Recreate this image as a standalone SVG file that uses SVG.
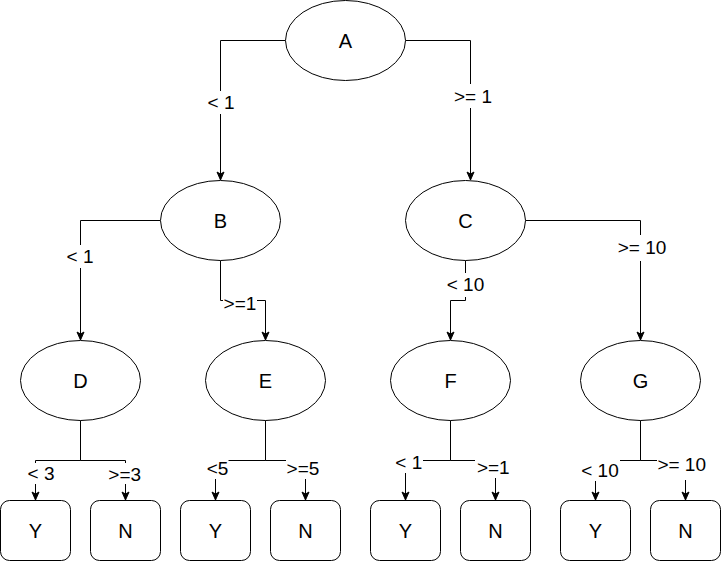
<svg xmlns="http://www.w3.org/2000/svg" width="721" height="561" viewBox="0 0 721 561">
<style>
.node{fill:#fff;stroke:#000;stroke-width:1}
.edge{fill:none;stroke:#000;stroke-width:1;marker-end:url(#arr)}
.nt{font-family:"Liberation Sans",Arial,sans-serif;font-size:20px;text-anchor:middle;fill:#000}
.lt{font-family:"Liberation Sans",Arial,sans-serif;font-size:19px;text-anchor:middle;fill:#000}
.bg{fill:#fff;stroke:none}
</style>
<defs>
<marker id="arr" markerUnits="userSpaceOnUse" viewBox="-1 -5 10 10" refX="8" refY="0" markerWidth="10" markerHeight="10" orient="auto">
<path d="M0,-3.5 L8,0 L0,3.5 L2,0 Z" fill="#000" stroke="#000" stroke-width="1" stroke-linejoin="miter"/>
</marker>
</defs>
<rect width="721" height="561" fill="#fff"/>
<g id="connectors">
<path class="edge" d="M285.5,40.5 H220.5 V180"/>
<path class="edge" d="M405.5,40.5 H470.5 V180"/>
<path class="edge" d="M160.5,220.5 H80.5 V340"/>
<path class="edge" d="M220.5,260.5 V300.5 H265.5 V340"/>
<path class="edge" d="M465.5,260.5 V300.5 H450.5 V340"/>
<path class="edge" d="M525.5,220.5 H640.5 V340"/>
<path class="edge" d="M80.5,420.5 V460.5 H35.5 V500"/>
<path class="edge" d="M80.5,420.5 V460.5 H125.5 V500"/>
<path class="edge" d="M265.5,420.5 V460.5 H215.5 V500"/>
<path class="edge" d="M265.5,420.5 V460.5 H305.5 V500"/>
<path class="edge" d="M450.5,420.5 V460.5 H405.5 V500"/>
<path class="edge" d="M450.5,420.5 V460.5 H495.5 V500"/>
<path class="edge" d="M640.5,420.5 V460.5 H595.5 V500"/>
<path class="edge" d="M640.5,420.5 V460.5 H685.5 V500"/>
<g id="edge-labels">
<rect class="bg" x="206" y="91" width="30" height="23"/><text class="lt" x="221" y="108.5">&lt; 1</text>
<rect class="bg" x="452" y="84" width="40" height="24"/><text class="lt" x="473" y="102.8">&gt;= 1</text>
<rect class="bg" x="64" y="245" width="32" height="23"/><text class="lt" x="80" y="263.3">&lt; 1</text>
<rect class="bg" x="223" y="292" width="34" height="23"/><text class="lt" x="240" y="310">&gt;=1</text>
<rect class="bg" x="444" y="273" width="43" height="24"/><text class="lt" x="465.5" y="291.3">&lt; 10</text>
<rect class="bg" x="615" y="235" width="54" height="26"/><text class="lt" x="642" y="254.3">&gt;= 10</text>
<rect class="bg" x="25" y="463" width="33" height="21"/><text class="lt" x="41" y="479.8">&lt; 3</text>
<rect class="bg" x="104" y="463" width="42" height="21"/><text class="lt" x="124.7" y="480.8">&gt;=3</text>
<rect class="bg" x="205" y="457" width="23.5" height="22"/><text class="lt" x="217.5" y="475.3">&lt;5</text>
<rect class="bg" x="286" y="457" width="37" height="22"/><text class="lt" x="303" y="474.8">&gt;=5</text>
<rect class="bg" x="393" y="451" width="30" height="22"/><text class="lt" x="408.8" y="468.8">&lt; 1</text>
<rect class="bg" x="475" y="456" width="37" height="22"/><text class="lt" x="493.3" y="473.8">&gt;=1</text>
<rect class="bg" x="578" y="459" width="42" height="22"/><text class="lt" x="600" y="476.8">&lt; 10</text>
<rect class="bg" x="657" y="453" width="54" height="27"/><text class="lt" x="681.7" y="470.8">&gt;= 10</text>
</g>
</g>
<g id="node-A"><ellipse class="node" cx="345.5" cy="40.5" rx="60" ry="40"/><text class="nt" x="345.5" y="47.5">A</text></g>
<g id="node-B"><ellipse class="node" cx="220.5" cy="220.5" rx="60" ry="40"/><text class="nt" x="220.5" y="227.5">B</text></g>
<g id="node-C"><ellipse class="node" cx="465.5" cy="220.5" rx="60" ry="40"/><text class="nt" x="465.5" y="227.5">C</text></g>
<g id="node-D"><ellipse class="node" cx="80.5" cy="380.5" rx="60" ry="40"/><text class="nt" x="80.5" y="387.5">D</text></g>
<g id="node-E"><ellipse class="node" cx="265.5" cy="380.5" rx="60" ry="40"/><text class="nt" x="265.5" y="387.5">E</text></g>
<g id="node-F"><ellipse class="node" cx="450.5" cy="380.5" rx="60" ry="40"/><text class="nt" x="450.5" y="387.5">F</text></g>
<g id="node-G"><ellipse class="node" cx="640.5" cy="380.5" rx="60" ry="40"/><text class="nt" x="640.5" y="387.5">G</text></g>
<g id="leaf-D-Y"><rect class="node" x="0.5" y="500.5" width="70" height="60" rx="9"/><text class="nt" x="35.5" y="537.5">Y</text></g>
<g id="leaf-D-N"><rect class="node" x="90.5" y="500.5" width="70" height="60" rx="9"/><text class="nt" x="125.5" y="537.5">N</text></g>
<g id="leaf-E-Y"><rect class="node" x="180.5" y="500.5" width="70" height="60" rx="9"/><text class="nt" x="215.5" y="537.5">Y</text></g>
<g id="leaf-E-N"><rect class="node" x="270.5" y="500.5" width="70" height="60" rx="9"/><text class="nt" x="305.5" y="537.5">N</text></g>
<g id="leaf-F-Y"><rect class="node" x="370.5" y="500.5" width="70" height="60" rx="9"/><text class="nt" x="405.5" y="537.5">Y</text></g>
<g id="leaf-F-N"><rect class="node" x="460.5" y="500.5" width="70" height="60" rx="9"/><text class="nt" x="495.5" y="537.5">N</text></g>
<g id="leaf-G-Y"><rect class="node" x="560.5" y="500.5" width="70" height="60" rx="9"/><text class="nt" x="595.5" y="537.5">Y</text></g>
<g id="leaf-G-N"><rect class="node" x="650.5" y="500.5" width="70" height="60" rx="9"/><text class="nt" x="685.5" y="537.5">N</text></g>
</svg>
